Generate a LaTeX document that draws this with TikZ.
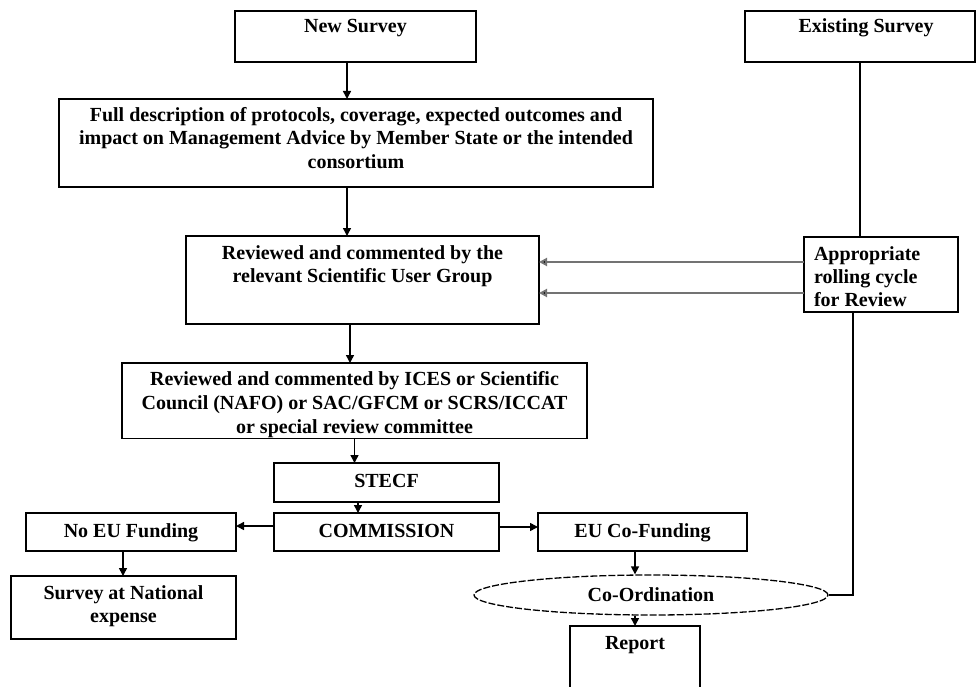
\documentclass[tikz,border=0pt]{standalone}
\usepackage{fontspec}
\setmainfont{Liberation Serif}
\usetikzlibrary{arrows.meta,shapes.geometric}
\newcommand\boxtxt[4]{\parbox[c][#2pt][t]{#1pt}{\centering\rule{0pt}{#3pt}#4}}
\newcommand\boxtxtl[4]{\parbox[c][#2pt][t]{#1pt}{\raggedright\leftskip=10pt\rule{0pt}{#3pt}#4}}
\begin{document}
\begin{tikzpicture}[x=1pt,y=-1pt,
  box/.style={draw, line width=1.8pt, inner sep=0pt, outer sep=0pt, anchor=north west},
  conn/.style={line width=1.5pt, -{Triangle[length=8pt,width=8pt]}},
  link/.style={line width=1.6pt},
  glink/.style={line width=1.9pt, draw=black!55, -{Triangle[length=8pt,width=8pt,fill=black]}},
  every node/.style={font=\bfseries\fontsize{20pt}{23.5pt}\selectfont}]
\useasboundingbox (0,0) rectangle (976,687);
\clip (0,0) rectangle (976,687);
\node[box] (new) at (235,11) {\boxtxt{241}{51}{21.5}{New Survey}};
\node[box] (full) at (59,99) {\boxtxt{594}{88}{22.5}{Full description of protocols, coverage, expected outcomes and\\ impact on Management Advice by Member State or the intended\\ consortium}};
\node[box] (sug) at (186,236) {\boxtxt{353}{88}{23}{Reviewed and commented by the\\ relevant Scientific User Group}};
\node[box] (exist) at (745,11) {\boxtxt{230}{51}{21.5}{\hspace*{12pt}Existing Survey}};
\node[box] (app) at (804,237) {\boxtxtl{154}{75}{23}{\setlength\baselineskip{23.3pt}Appropriate\\ rolling cycle\\ for Review}};
\node[box] (ices) at (122,363) {\boxtxt{465}{75.5}{22}{\setlength\baselineskip{24pt}Reviewed and commented by ICES or Scientific\\ Council (NAFO) or SAC/GFCM or SCRS/ICCAT\\ or special review committee}};
\node[box] (stecf) at (274,463) {\boxtxt{225}{39}{24}{STECF}};
\node[box] (comm) at (274,513) {\boxtxt{225}{38}{24}{COMMISSION}};
\node[box] (noeu) at (26,513) {\boxtxt{210}{38}{24}{No EU Funding}};
\node[box] (natl) at (11,576) {\boxtxt{225}{63}{23.3}{Survey at National\\ expense}};
\node[box] (eucf) at (538,513) {\boxtxt{209}{38}{24}{EU Co-Funding}};
\node[draw, ellipse, dash pattern=on 7pt off 2pt, line width=1.3pt, minimum width=354pt, minimum height=40pt, inner sep=0pt] (coord) at (651,595) {Co-Ordination};
\node[box] (report) at (570,626) {\boxtxt{130}{80}{23}{Report}};
% connectors
\draw[conn] ([xshift=-8.5pt]new.south) -- ([xshift=-8.5pt]new.south |- full.north);
\draw[conn] ([xshift=-9pt]full.south) -- ([xshift=-9pt]full.south |- sug.north);
\draw[conn] ([xshift=-12.5pt]sug.south) -- ([xshift=-12.5pt]sug.south |- ices.north);
\draw[conn] (ices.south) -- (ices.south |- stecf.north);
\draw[conn] ([xshift=-28.5pt]stecf.south) -- ([xshift=-28.5pt]stecf.south |- comm.north);
\draw[conn] ([yshift=6pt]comm.west) -- ([yshift=6pt]comm.west -| noeu.east);
\draw[conn] ([xshift=-8pt]noeu.south) -- ([xshift=-8pt]noeu.south |- natl.north);
\draw[conn] ([yshift=5pt]comm.east) -- ([yshift=5pt]comm.east -| eucf.west);
\draw[conn] (eucf.south -| report.north) -- (coord.north -| report.north);
\draw[conn] (coord.south -| report.north) -- (report.north);
\draw[link] (exist.south) -- (exist.south |- app.north);
\draw[glink] ([yshift=-25pt]app.north west) -- ([yshift=-25pt]app.north west -| sug.east);
\draw[glink] ([yshift=-56pt]app.north west) -- ([yshift=-56pt]app.north west -| sug.east);
\draw[link] ([xshift=49pt]app.south west) |- (coord.east);
\end{tikzpicture}
\end{document}
